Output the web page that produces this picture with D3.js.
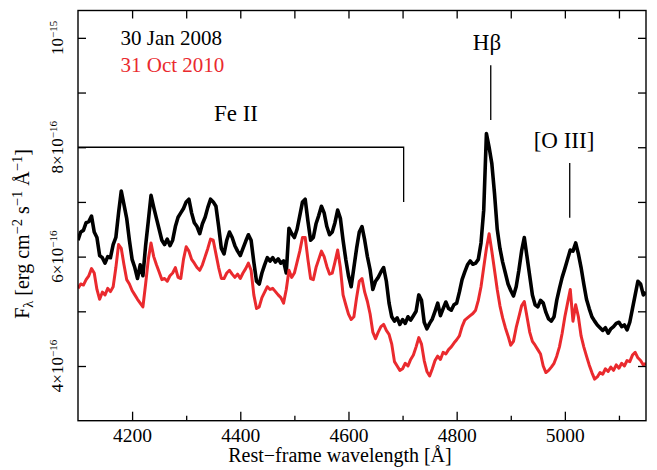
<!DOCTYPE html>
<html><head><meta charset="utf-8">
<script src="https://cdn.jsdelivr.net/npm/d3@7"></script>
<style>
html,body{margin:0;padding:0;background:#fff;}
svg text{font-family:"Liberation Serif","Times New Roman",serif;fill:#000;}
</style>
</head><body>
<svg id="chart" width="657" height="470"></svg>
<script>
// ---- data (flux in units of 1e-16 erg cm^-2 s^-1 Å^-1) ----
const wavelengthStart = 4100, wavelengthStep = 5;
const flux2008 = [
6.30,6.45,6.48,6.62,6.64,6.74,6.45,6.35,6.02,5.98,
5.88,6.00,5.98,6.22,6.35,6.80,7.20,6.95,6.70,6.30,
5.95,5.80,5.60,5.85,5.65,6.20,6.65,7.12,6.90,6.70,
6.50,6.30,6.22,6.32,6.20,6.30,6.55,6.72,6.80,6.88,
7.00,7.05,6.80,6.62,6.55,6.42,6.60,6.72,6.90,7.05,
7.00,6.92,6.55,6.15,6.05,6.30,6.45,6.35,6.20,6.10,
6.02,6.15,6.28,6.40,6.30,5.90,5.55,5.50,5.70,5.85,
5.98,5.92,5.98,5.90,5.96,5.88,5.92,5.70,6.52,6.42,
6.35,6.50,6.75,7.00,7.05,6.65,6.30,6.35,6.60,6.75,
6.92,6.80,6.55,6.40,6.45,6.62,6.85,6.70,6.30,5.95,
5.65,5.45,5.80,6.15,6.45,6.55,6.30,6.00,5.76,5.40,
5.55,5.62,5.72,5.80,5.55,5.15,4.90,4.82,4.88,4.76,
4.85,4.78,4.90,4.84,4.92,5.00,5.30,5.20,4.80,4.68,
4.78,4.86,5.00,5.15,4.92,5.05,5.17,5.05,5.02,5.12,
5.15,5.35,5.58,5.72,5.85,5.92,5.86,5.88,5.95,6.25,
6.85,8.25,8.00,7.70,7.15,6.50,6.15,5.90,5.70,5.50,
5.38,5.28,5.45,5.75,6.10,6.35,6.00,5.65,5.30,5.12,
5.08,5.20,5.15,4.98,4.86,4.82,4.90,5.20,5.42,5.62,
5.78,5.95,6.12,6.10,6.25,6.05,5.80,5.50,5.22,5.05,
4.90,4.82,4.75,4.70,4.65,4.70,4.60,4.68,4.72,4.78,
4.80,4.72,4.75,4.66,4.80,5.05,5.30,5.55,5.50,5.30,
5.35
];
const flux2010 = [
5.42,5.50,5.48,5.58,5.65,5.78,5.70,5.40,5.22,5.35,
5.30,5.42,5.36,5.45,5.80,6.22,6.15,5.85,5.58,5.50,
5.38,5.30,5.22,5.15,5.08,5.50,5.95,6.25,6.00,5.85,
5.72,5.58,5.60,5.55,5.65,5.70,5.80,5.62,5.60,5.95,
6.18,6.10,5.95,5.88,5.80,5.75,5.85,6.00,6.15,6.32,
6.30,6.05,5.80,5.60,5.60,5.70,5.75,5.68,5.62,5.68,
5.60,5.70,5.78,5.88,5.75,5.30,5.05,5.08,5.25,5.35,
5.45,5.40,5.42,5.36,5.30,5.25,5.15,5.40,5.75,5.62,
5.70,5.90,6.10,6.35,6.35,5.95,5.60,5.58,5.80,5.95,
6.10,6.00,5.82,5.68,5.70,5.90,6.12,5.80,5.30,5.12,
4.95,4.85,4.90,5.25,5.55,5.60,5.35,5.18,4.95,4.62,
4.50,4.62,4.72,4.76,4.65,4.58,4.40,4.08,4.00,3.92,
3.95,4.05,4.00,4.12,4.20,4.35,4.52,4.40,4.10,3.90,
3.82,3.95,4.10,4.18,4.12,4.25,4.22,4.30,4.35,4.42,
4.48,4.55,4.72,4.84,4.88,4.92,4.96,5.02,5.20,5.45,
5.80,6.15,6.42,6.10,5.75,5.40,5.10,4.88,4.70,4.55,
4.38,4.45,4.70,4.90,5.10,5.18,4.90,4.62,4.45,4.38,
4.30,4.22,4.00,3.88,3.92,3.98,4.05,4.18,4.35,4.60,
4.90,5.15,5.40,4.82,5.12,4.90,4.55,4.35,4.18,4.02,
3.88,3.76,3.80,3.88,3.85,3.95,3.90,3.98,3.92,4.02,
3.96,4.05,4.00,4.10,4.08,4.20,4.25,4.15,4.10,4.02,
4.05
];
const seriesNames = ["30 Jan 2008", "31 Oct 2010"];
const seriesColors = ["#000000", "#ea2a2e"];
const xMajorTicks = [4200, 4400, 4600, 4800, 5000];
const xMinorTicks = [4300, 4500, 4700, 4900, 5100];
const yTickValues = [4, 6, 8, 10];
const yTickMantissa = ["4×10", "6×10", "8×10", "10"];
const yTickExponent = ["−16", "−16", "−16", "−15"];
const yMinorTicks = [5, 7, 9];
// line identifications
const feIIBracket = {label: "Fe II", x0: 4100, x1: 4702, yTop: 8.0, yBottom: 7.0};
const hBeta = {label: "Hβ", x: 4863, y0: 8.5, y1: 9.5};
const oIII = {label: "[O III]", x: 5009, y0: 6.71, y1: 7.71};

// ---- layout ----
const svg = d3.select("#chart");
const pL = 78, pR = 646, pT = 10.5, pB = 420.7;
const x = d3.scaleLinear().domain([4100, 5150]).range([pL, pR]);
const y = d3.scaleLinear().domain([3, 10.5]).range([pB, pT]);

const wavelengths = flux2008.map((_, i) => wavelengthStart + i * wavelengthStep);
const series = [flux2008, flux2010].map(f => f.map((v, i) => ({w: wavelengths[i], f: v})));

svg.append("clipPath").attr("id", "clip").append("rect")
  .attr("x", pL).attr("y", pT).attr("width", pR - pL).attr("height", pB - pT);

const line = d3.line().x(d => x(d.w)).y(d => y(d.f));
const g = svg.append("g").attr("clip-path", "url(#clip)");
series.forEach((s, i) => {
  g.append("path").datum(s).attr("d", line)
    .attr("fill", "none").attr("stroke", seriesColors[i])
    .attr("stroke-width", i === 0 ? 3.6 : 3.0).attr("stroke-linejoin", "round");
});

// annotations
const ann = svg.append("g").attr("stroke", "#000").attr("stroke-width", 1.3).attr("fill", "none");
ann.append("path").attr("d",
  `M${x(feIIBracket.x0)},${y(feIIBracket.yTop)}H${x(feIIBracket.x1)}V${y(feIIBracket.yBottom)}`);
ann.append("line").attr("x1", x(hBeta.x)).attr("x2", x(hBeta.x)).attr("y1", y(hBeta.y0)).attr("y2", y(hBeta.y1));
ann.append("line").attr("x1", x(oIII.x)).attr("x2", x(oIII.x)).attr("y1", y(oIII.y0)).attr("y2", y(oIII.y1));

svg.append("text").attr("x", 236).attr("y", 121).attr("text-anchor", "middle").attr("font-size", 23).text(feIIBracket.label);
svg.append("text").attr("x", 487).attr("y", 50).attr("text-anchor", "middle").attr("font-size", 23).text(hBeta.label);
svg.append("text").attr("x", 564).attr("y", 148).attr("text-anchor", "middle").attr("font-size", 23).text(oIII.label);

// legend
seriesNames.forEach((n, i) => {
  svg.append("text").attr("x", 120.5).attr("y", 45 + i * 26.5).attr("font-size", 21)
    .style("fill", seriesColors[i]).text(n);
});

// axes
const axG = svg.append("g");
const bMajor = axG.append("g").attr("transform", `translate(0,${pB})`)
  .call(d3.axisBottom(x).tickValues(xMajorTicks).tickSize(-9).tickPadding(7).tickFormat(d3.format("d")));
bMajor.selectAll("text").attr("font-size", 19.5).attr("font-family", "Liberation Serif").attr("fill", "#000");
axG.append("g").attr("transform", `translate(0,${pB})`)
  .call(d3.axisBottom(x).tickValues(xMinorTicks).tickSize(-5).tickFormat(""));
axG.append("g").attr("transform", `translate(0,${pT})`)
  .call(d3.axisTop(x).tickValues(xMajorTicks.concat(xMinorTicks)).tickSize(-8).tickFormat(""));
axG.append("g").attr("transform", `translate(${pL},0)`)
  .call(d3.axisLeft(y).tickValues(yTickValues.concat(yMinorTicks)).tickSize(-8).tickFormat(""));
axG.append("g").attr("transform", `translate(${pR},0)`)
  .call(d3.axisRight(y).tickValues(yTickValues.concat(yMinorTicks)).tickSize(-8).tickFormat(""));
axG.selectAll(".domain").remove();
axG.selectAll(".tick line").attr("stroke", "#000").attr("stroke-width", 1.3);

svg.append("rect").attr("x", pL).attr("y", pT).attr("width", pR - pL).attr("height", pB - pT)
  .attr("fill", "none").attr("stroke", "#000").attr("stroke-width", 1.4);

// rotated y tick labels
yTickValues.forEach((v, i) => {
  const t = svg.append("text").attr("transform", `translate(62.5,${y(v)}) rotate(-90)`)
    .attr("text-anchor", "middle").attr("font-size", 17);
  t.append("tspan").text(yTickMantissa[i]);
  t.append("tspan").attr("font-size", 11).attr("dy", -6).text(yTickExponent[i]);
});

// axis titles
svg.append("text").attr("x", 340).attr("y", 462).attr("text-anchor", "middle").attr("font-size", 20)
  .text("Rest−frame wavelength [Å]");
const yl = svg.append("text").attr("transform", "translate(28.5,234) rotate(-90)")
  .attr("text-anchor", "middle").attr("font-size", 20);
yl.append("tspan").text("F");
yl.append("tspan").attr("font-size", 14.5).attr("dy", 4).text("λ");
yl.append("tspan").attr("dy", -4).text(" [erg cm");
yl.append("tspan").attr("font-size", 14.5).attr("dy", -7).text("−2");
yl.append("tspan").attr("dy", 7).text(" s");
yl.append("tspan").attr("font-size", 14.5).attr("dy", -7).text("−1");
yl.append("tspan").attr("dy", 7).text(" Å");
yl.append("tspan").attr("font-size", 14.5).attr("dy", -7).text("−1");
yl.append("tspan").attr("dy", 7).text("]");
</script>
</body></html>
